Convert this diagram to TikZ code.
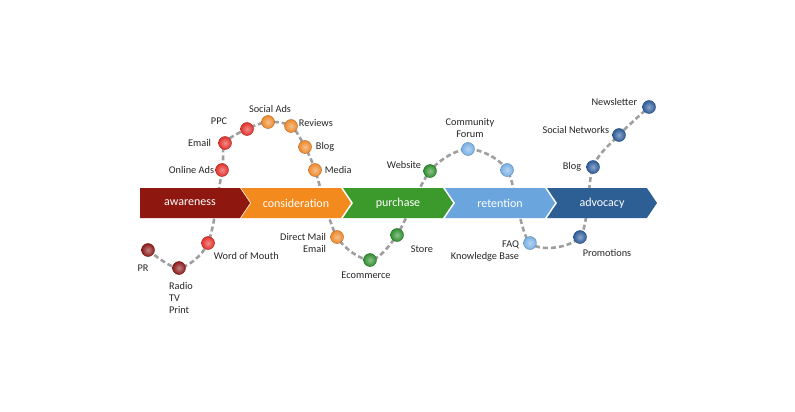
\documentclass[tikz,border=0pt]{standalone}
\usepackage{fontspec}
\setmainfont{Carlito}
\usepackage{tikz}
\usetikzlibrary{shapes.symbols,positioning,backgrounds}

\definecolor{awarenessC}{HTML}{8E1810}
\definecolor{considerC}{HTML}{F28A1E}
\definecolor{purchaseC}{HTML}{3C9A2C}
\definecolor{retentionC}{HTML}{6AA5DE}
\definecolor{advocacyC}{HTML}{2D5F94}
\definecolor{maroonDot}{HTML}{8E1A1A}
\definecolor{redDot}{HTML}{E2302A}
\definecolor{orangeDot}{HTML}{EE8A2C}
\definecolor{greenDot}{HTML}{2F8E2E}
\definecolor{lblueDot}{HTML}{78B0E4}
\definecolor{dblueDot}{HTML}{2D5C9A}

\begin{document}
\begin{tikzpicture}[
    x=1pt, y=-1pt,
    stage/.style={signal, signal to=east, signal pointer angle=112, minimum width=110pt, minimum height=30pt, inner sep=0pt, text=white, font=\fontsize{12}{13}\selectfont},
    dot/.style={circle, minimum size=13pt, inner sep=0pt, draw=#1!75!black, line width=0.4pt, inner color=#1!55!white, outer color=#1},
    lbl/.style={inner sep=1pt, font=\fontsize{10.3}{12}\selectfont, text=black!85},
    trail/.style={gray!75, line width=2.6pt, dash pattern=on 5pt off 3pt},
]
\useasboundingbox (0,0) rectangle (795,412);

% Stages of the journey
\node[stage, fill=awarenessC] (awareness) at (190,203) {awareness};
\node[stage, fill=considerC, signal from=west] (consideration) at (296,203) {consideration};
\node[stage, fill=purchaseC, signal from=west] (purchase) at (398,203) {purchase};
\node[stage, fill=retentionC, signal from=west] (retention) at (500,203) {retention};
\node[stage, fill=advocacyC, signal from=west] (advocacy) at (602,203) {advocacy};

% Touchpoints
\node[dot=maroonDot] (pr) at (148,250) {};
\node[dot=maroonDot] (radio) at (179,268) {};
\node[dot=redDot] (wom) at (208,243) {};
\node[dot=redDot] (onlineads) at (222,170) {};
\node[dot=redDot] (email) at (225,143) {};
\node[dot=redDot] (ppc) at (247,129) {};
\node[dot=orangeDot] (socialads) at (268,122) {};
\node[dot=orangeDot] (reviews) at (291,126) {};
\node[dot=orangeDot] (blogc) at (305,147) {};
\node[dot=orangeDot] (media) at (315,170) {};
\node[dot=orangeDot] (directmail) at (337,237) {};
\node[dot=greenDot] (ecommerce) at (370,260) {};
\node[dot=greenDot] (store) at (397,235) {};
\node[dot=greenDot] (website) at (430,171) {};
\node[dot=lblueDot] (forum) at (468,149) {};
\node[dot=lblueDot] (loyalty) at (507,170) {};
\node[dot=lblueDot] (faq) at (530,243) {};
\node[dot=dblueDot] (promotions) at (580,237) {};
\node[dot=dblueDot] (bloga) at (593,167) {};
\node[dot=dblueDot] (socialnet) at (619,135) {};
\node[dot=dblueDot] (newsletter) at (649,107) {};

% Labels
\node[lbl, below=7pt of pr, xshift=-5pt] {PR};
\node[lbl, below=6pt of radio, xshift=2pt, align=left] {Radio\\TV\\Print};
\node[lbl, below right=3pt and 0pt of wom] {Word of Mouth};
\node[lbl, left=0pt of onlineads] {Online Ads};
\node[lbl, left=6pt of email] {Email};
\node[lbl, left=12pt of ppc, yshift=8pt] {PPC};
\node[lbl, above=2pt of socialads, xshift=2pt] {Social Ads};
\node[lbl, right=0pt of reviews, yshift=3pt] {Reviews};
\node[lbl, right=3pt of blogc] {Blog};
\node[lbl, right=2pt of media] {Media};
\node[lbl, left=3pt of directmail, yshift=-6pt, align=right] {Direct Mail\\Email};
\node[lbl, below=4pt of ecommerce, xshift=-4pt] {Ecommerce};
\node[lbl, right=6pt of store, yshift=-14pt] {Store};
\node[lbl, left=1pt of website, yshift=6pt] {Website};
\node[lbl, above=4pt of forum, xshift=2pt, align=center] {Community\\Forum};
\node[lbl, left=3pt of faq, yshift=-8pt, align=right] {FAQ\\Knowledge Base};
\node[lbl, below=4pt of promotions, xshift=27pt] {Promotions};
\node[lbl, left=4pt of bloga] {Blog};
\node[lbl, left=2pt of socialnet, yshift=5pt] {Social Networks};
\node[lbl, left=4pt of newsletter, yshift=5pt] {Newsletter};

% Dashed trail behind everything
\begin{scope}[on background layer]
\draw[trail] plot[smooth] coordinates {(pr) (radio) (wom) (onlineads) (email) (ppc) (socialads) (reviews) (blogc) (media) (directmail) (ecommerce) (store) (website) (forum) (loyalty) (faq) (promotions) (bloga) (socialnet) (newsletter)};
\end{scope}

\end{tikzpicture}
\end{document}
